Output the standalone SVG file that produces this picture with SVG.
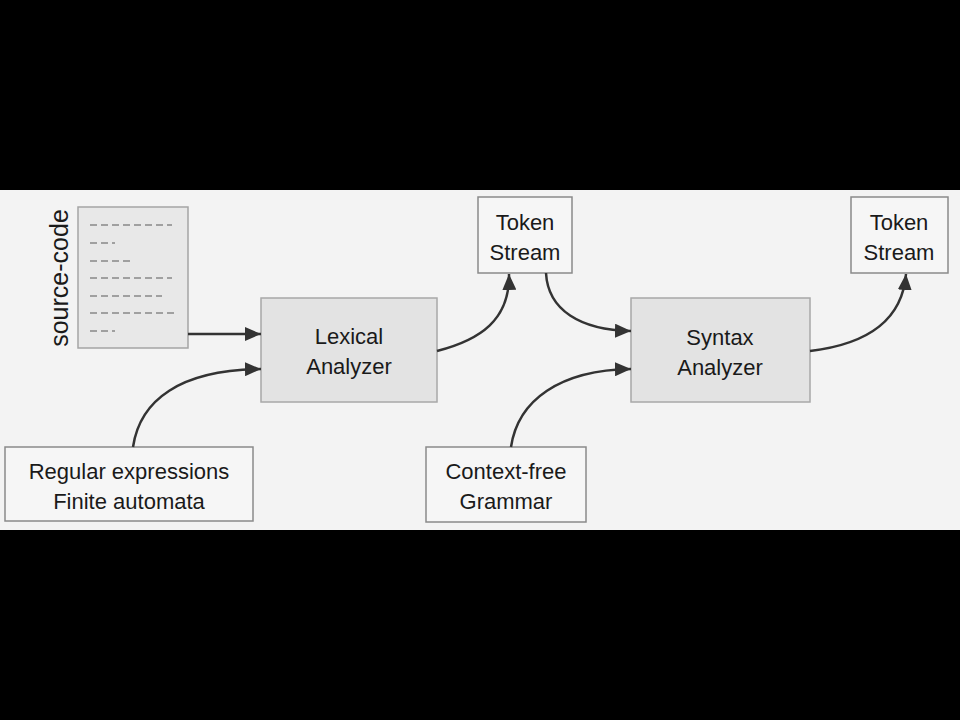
<svg xmlns="http://www.w3.org/2000/svg" width="960" height="720" viewBox="0 0 960 720">
<style>
text{font-family:"Liberation Sans",Arial,sans-serif;fill:#1a1a1a;}
.lbl{font-size:22px;text-anchor:middle;}
.proc{fill:#e3e3e3;stroke:#a8a8a8;stroke-width:1.5;}
.box{fill:#f6f6f6;stroke:#8a8a8a;stroke-width:1.5;}
.edge{fill:none;stroke:#333;stroke-width:2.5;}
.code{stroke:#a0a0a0;stroke-width:2;stroke-dasharray:7 4;}
</style>
<defs>
<marker id="ah" viewBox="0 0 16 14" refX="16" refY="7" markerWidth="16" markerHeight="14" markerUnits="userSpaceOnUse" orient="auto">
<path d="M0,0 L16,7 L0,14 z" fill="#333"/>
</marker>
</defs>
<rect width="960" height="720" fill="#000"/>
<rect x="0" y="190" width="960" height="340" fill="#f3f3f3"/>

<g id="source">
<rect x="78" y="207" width="110" height="141" fill="#e8e8e8" stroke="#a5a5a5" stroke-width="1.5"/>
<g class="code">
<line x1="90" y1="225" x2="172" y2="225"/>
<line x1="90" y1="243" x2="115" y2="243"/>
<line x1="90" y1="261" x2="133" y2="261"/>
<line x1="90" y1="278" x2="172" y2="278"/>
<line x1="90" y1="296" x2="162" y2="296"/>
<line x1="90" y1="313" x2="176" y2="313"/>
<line x1="90" y1="331" x2="115" y2="331"/>
</g>
<text class="lbl" transform="translate(68,278) rotate(-90)" style="font-size:25px">source-code</text>
</g>

<g id="lexical">
<rect class="proc" x="261" y="298" width="176" height="104"/>
<text class="lbl" x="349" y="344">Lexical</text>
<text class="lbl" x="349" y="374">Analyzer</text>
</g>

<g id="token1">
<rect class="box" x="478" y="197" width="94" height="76"/>
<text class="lbl" x="525" y="230">Token</text>
<text class="lbl" x="525" y="260">Stream</text>
</g>

<g id="syntax">
<rect class="proc" x="631" y="298" width="179" height="104"/>
<text class="lbl" x="720" y="345">Syntax</text>
<text class="lbl" x="720" y="375">Analyzer</text>
</g>

<g id="token2">
<rect class="box" x="851" y="197" width="97" height="76"/>
<text class="lbl" x="899" y="230">Token</text>
<text class="lbl" x="899" y="260">Stream</text>
</g>

<g id="regex">
<rect class="box" x="5" y="447" width="248" height="74"/>
<text class="lbl" x="129" y="479">Regular expressions</text>
<text class="lbl" x="129" y="509">Finite automata</text>
</g>

<g id="cfg">
<rect class="box" x="426" y="447" width="160" height="75"/>
<text class="lbl" x="506" y="479">Context-free</text>
<text class="lbl" x="506" y="509">Grammar</text>
</g>

<g id="connectors">
<path class="edge" d="M188,334 L261,334" marker-end="url(#ah)"/>
<path class="edge" d="M133,447 C140,400 180,370 261,369" marker-end="url(#ah)"/>
<path class="edge" d="M437,351 C480,340 510,320 509,274" marker-end="url(#ah)"/>
<path class="edge" d="M546,273 C548,310 580,330 631,331" marker-end="url(#ah)"/>
<path class="edge" d="M511,447 C518,400 560,370 631,369" marker-end="url(#ah)"/>
<path class="edge" d="M810,351 C860,345 902,325 906,274" marker-end="url(#ah)"/>
</g>
</svg>
